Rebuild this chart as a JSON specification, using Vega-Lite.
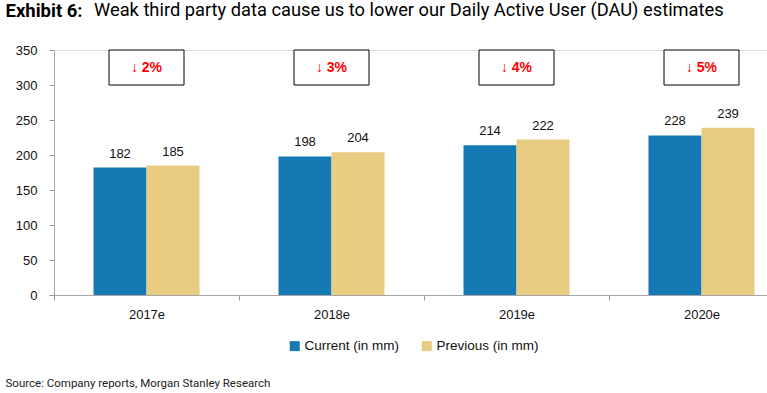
{
  "$schema": "https://vega.github.io/schema/vega-lite/v6.json",
  "width": 713,
  "height": 245,
  "autosize": "none",
  "padding": {"left": 54, "top": 50, "right": 0, "bottom": 98},
  "background": "white",
  "resolve": {"axis": {"y": "independent"}},
  "title": {
    "text": "Weak third party data cause us to lower our Daily Active User (DAU) estimates",
    "anchor": "start",
    "frame": "group",
    "orient": "top",
    "baseline": "top",
    "dx": 40,
    "offset": -19,
    "font": "Roboto",
    "fontSize": 18.3,
    "fontWeight": "normal",
    "color": "#000000"
  },
  "datasets": {
    "bars": [
      {"year": "2017e", "series": "Current (in mm)", "value": 182},
      {"year": "2017e", "series": "Previous (in mm)", "value": 185},
      {"year": "2018e", "series": "Current (in mm)", "value": 198},
      {"year": "2018e", "series": "Previous (in mm)", "value": 204},
      {"year": "2019e", "series": "Current (in mm)", "value": 214},
      {"year": "2019e", "series": "Previous (in mm)", "value": 222},
      {"year": "2020e", "series": "Current (in mm)", "value": 228},
      {"year": "2020e", "series": "Previous (in mm)", "value": 239}
    ],
    "boxes": [
      {"year": "2017e", "change": "↓ 2%"},
      {"year": "2018e", "change": "↓ 3%"},
      {"year": "2019e", "change": "↓ 4%"},
      {"year": "2020e", "change": "↓ 5%"}
    ]
  },
  "encoding": {
    "x": {
      "field": "year",
      "type": "nominal",
      "scale": {"domain": ["2017e", "2018e", "2019e", "2020e"], "range": [0, 740], "paddingInner": 0, "paddingOuter": 0},
      "axis": {
        "title": "Source: Company reports, Morgan Stanley Research",
        "titleX": -49,
        "titleY": 88,
        "titleAlign": "left",
        "titleAnchor": "start",
        "titleBaseline": "middle",
        "titleFont": "Roboto",
        "titleFontSize": 11.5,
        "titleFontWeight": "normal",
        "titleColor": "#222222",
        "labelAngle": 0,
        "labelFont": "Liberation Sans",
        "labelFontSize": 13,
        "labelColor": "#111111",
        "labelPadding": 8,
        "tickBand": "extent",
        "tickSize": 5,
        "tickColor": "#999999",
        "domainColor": "#a6a6a6",
        "grid": false
      }
    }
  },
  "layer": [
    {
      "data": {"name": "bars"},
      "mark": {"type": "bar"},
      "encoding": {
        "xOffset": {"field": "series", "type": "nominal", "scale": {"paddingInner": 0, "paddingOuter": 0.745}},
        "y": {
          "field": "value",
          "type": "quantitative",
          "scale": {"domain": [0, 350], "nice": false},
          "axis": {
            "orient": "left",
            "title": "Exhibit 6:",
            "titleX": -49,
            "titleY": -34,
            "titleAngle": 0,
            "titleAlign": "left",
            "titleAnchor": "start",
            "titleBaseline": "alphabetic",
            "titleFont": "Roboto",
            "titleFontSize": 18.5,
            "titleFontWeight": "bold",
            "titleColor": "#000000",
            "values": [0, 50, 100, 150, 200, 250, 300, 350],
            "labelOverlap": false,
            "labelFont": "Liberation Sans",
            "labelFontSize": 13,
            "labelColor": "#111111",
            "labelPadding": 12,
            "tickSize": 5,
            "tickColor": "#999999",
            "domainColor": "#a6a6a6",
            "grid": false
          }
        },
        "color": {
          "field": "series",
          "type": "nominal",
          "scale": {"range": ["#157ab3", "#e8cc82"]},
          "legend": {
            "title": null,
            "orient": "none",
            "direction": "horizontal",
            "legendX": 234,
            "legendY": 289,
            "symbolType": "square",
            "symbolSize": 100,
            "symbolStrokeWidth": 0,
            "symbolOpacity": 1,
            "labelFont": "Liberation Sans",
            "labelFontSize": 13.5,
            "labelColor": "#111111",
            "labelOffset": 3,
            "columnPadding": 20
          }
        }
      }
    },
    {
      "data": {"name": "bars"},
      "mark": {"type": "text", "dy": -7, "font": "Liberation Sans", "fontSize": 13, "color": "#111111", "baseline": "bottom"},
      "encoding": {
        "xOffset": {"field": "series", "type": "nominal", "scale": {"paddingInner": 0, "paddingOuter": 0.745}},
        "y": {"field": "value", "type": "quantitative", "axis": null},
        "text": {"field": "value", "type": "quantitative"}
      }
    },
    {
      "data": {"name": "boxes"},
      "mark": {"type": "bar", "width": 75, "fill": "white", "stroke": "black", "strokeWidth": 1},
      "encoding": {
        "y": {"datum": 350, "axis": null},
        "y2": {"datum": 300}
      }
    },
    {
      "data": {"name": "boxes"},
      "mark": {"type": "text", "font": "Liberation Sans", "fontSize": 14, "fontWeight": "bold", "color": "#ff0000", "baseline": "middle"},
      "encoding": {
        "y": {"datum": 325, "axis": null},
        "text": {"field": "change"}
      }
    }
  ]
}
